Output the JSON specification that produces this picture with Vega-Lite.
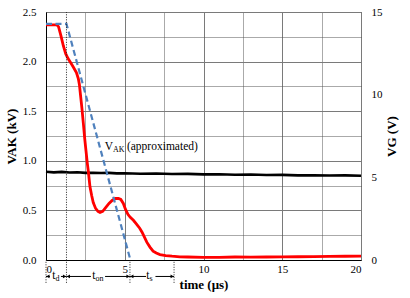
{
  "$schema": "https://vega.github.io/schema/vega-lite/v6.json",
  "width": 315,
  "height": 248,
  "autosize": {"type": "none"},
  "padding": {"left": 46, "top": 12, "right": 49, "bottom": 38},
  "background": "white",
  "config": {
    "font": "Liberation Serif",
    "view": {"stroke": "#404040", "strokeWidth": 1},
    "axis": {
      "labelFont": "Liberation Serif",
      "labelFontSize": 11,
      "labelColor": "black",
      "titleFont": "Liberation Serif",
      "titleColor": "black",
      "titleFontWeight": "bold",
      "titleFontSize": 13,
      "ticks": false
    },
    "text": {"font": "Liberation Serif", "color": "black"}
  },
  "datasets": {
    "vak": [
      {"t": 0, "v": 2.37}, {"t": 0.7, "v": 2.37}, {"t": 0.8, "v": 2.35}, {"t": 0.95, "v": 2.26},
      {"t": 1.1, "v": 2.16}, {"t": 1.25, "v": 2.08}, {"t": 1.4, "v": 2.03}, {"t": 1.56, "v": 1.99},
      {"t": 1.75, "v": 1.94}, {"t": 1.93, "v": 1.89}, {"t": 2.05, "v": 1.83}, {"t": 2.12, "v": 1.77},
      {"t": 2.2, "v": 1.65}, {"t": 2.28, "v": 1.53}, {"t": 2.37, "v": 1.38}, {"t": 2.46, "v": 1.22},
      {"t": 2.54, "v": 1.1}, {"t": 2.62, "v": 0.98}, {"t": 2.69, "v": 0.89}, {"t": 2.79, "v": 0.74},
      {"t": 2.9, "v": 0.65}, {"t": 3.0, "v": 0.58}, {"t": 3.15, "v": 0.52}, {"t": 3.3, "v": 0.49},
      {"t": 3.43, "v": 0.48}, {"t": 3.6, "v": 0.49}, {"t": 3.8, "v": 0.53}, {"t": 4.0, "v": 0.57},
      {"t": 4.2, "v": 0.6}, {"t": 4.4, "v": 0.62}, {"t": 4.6, "v": 0.62}, {"t": 4.75, "v": 0.61},
      {"t": 4.91, "v": 0.57}, {"t": 5.05, "v": 0.51}, {"t": 5.2, "v": 0.46}, {"t": 5.35, "v": 0.43},
      {"t": 5.55, "v": 0.4}, {"t": 5.76, "v": 0.36}, {"t": 5.95, "v": 0.32}, {"t": 6.1, "v": 0.28},
      {"t": 6.25, "v": 0.23}, {"t": 6.4, "v": 0.18}, {"t": 6.6, "v": 0.13}, {"t": 6.8, "v": 0.09},
      {"t": 7.0, "v": 0.07}, {"t": 7.24, "v": 0.055}, {"t": 7.6, "v": 0.045}, {"t": 8.0, "v": 0.038},
      {"t": 8.5, "v": 0.032}, {"t": 9, "v": 0.03}, {"t": 10, "v": 0.027}, {"t": 11, "v": 0.027},
      {"t": 12, "v": 0.03}, {"t": 13, "v": 0.028}, {"t": 14, "v": 0.03}, {"t": 15, "v": 0.032},
      {"t": 16, "v": 0.033}, {"t": 17, "v": 0.035}, {"t": 18, "v": 0.036}, {"t": 19, "v": 0.038},
      {"t": 20, "v": 0.04}
    ],
    "approx": [
      {"t": 0, "v": 2.38}, {"t": 1.3, "v": 2.38}, {"t": 5.36, "v": 0}
    ],
    "vg": [
      {"t": 0, "vg": 5.34}, {"t": 0.5, "vg": 5.3}, {"t": 1, "vg": 5.33}, {"t": 1.5, "vg": 5.29},
      {"t": 2, "vg": 5.31}, {"t": 2.5, "vg": 5.27}, {"t": 3, "vg": 5.28}, {"t": 3.5, "vg": 5.26},
      {"t": 4, "vg": 5.27}, {"t": 4.5, "vg": 5.24}, {"t": 5, "vg": 5.25}, {"t": 6, "vg": 5.22},
      {"t": 7, "vg": 5.23}, {"t": 8, "vg": 5.2}, {"t": 9, "vg": 5.21}, {"t": 10, "vg": 5.18},
      {"t": 11, "vg": 5.19}, {"t": 12, "vg": 5.16}, {"t": 13, "vg": 5.17}, {"t": 14, "vg": 5.14},
      {"t": 15, "vg": 5.15}, {"t": 16, "vg": 5.12}, {"t": 17, "vg": 5.13}, {"t": 18, "vg": 5.11},
      {"t": 19, "vg": 5.12}, {"t": 20, "vg": 5.1}
    ],
    "marks": [
      {"t": 0, "v": -0.23, "v2": 0},
      {"t": 1.3, "v": -0.23, "v2": 2.5},
      {"t": 5.33, "v": -0.23, "v2": 0},
      {"t": 8.13, "v": -0.23, "v2": 0}
    ],
    "segs": [
      {"t": 0, "t2": 0.25, "v": -0.166},
      {"t": 0.95, "t2": 1.3, "v": -0.166},
      {"t": 1.3, "t2": 2.85, "v": -0.166},
      {"t": 3.75, "t2": 5.33, "v": -0.166},
      {"t": 5.33, "t2": 6.35, "v": -0.166},
      {"t": 6.95, "t2": 8.13, "v": -0.166}
    ],
    "heads": [
      {"t": 0.12, "v": -0.166, "dir": "left"},
      {"t": 1.18, "v": -0.166, "dir": "right"},
      {"t": 1.42, "v": -0.166, "dir": "left"},
      {"t": 5.21, "v": -0.166, "dir": "right"},
      {"t": 5.45, "v": -0.166, "dir": "left"},
      {"t": 8.01, "v": -0.166, "dir": "right"}
    ],
    "txtMain": [
      {"t": 0.6, "v": -0.166, "txt": "t"},
      {"t": 3.14, "v": -0.166, "txt": "t"},
      {"t": 6.57, "v": -0.166, "txt": "t"},
      {"t": 4.25, "v": 1.144, "txt": "V"}
    ],
    "txtSub": [
      {"t": 0.6, "v": -0.166, "txt": "d"},
      {"t": 3.14, "v": -0.166, "txt": "on"},
      {"t": 6.57, "v": -0.166, "txt": "s"},
      {"t": 4.25, "v": 1.144, "txt": "AK"}
    ],
    "txtRest": [
      {"t": 4.25, "v": 1.144, "txt": "(approximated)"}
    ]
  },
  "layer": [
    {
      "data": {"name": "vak"},
      "mark": {"type": "line", "color": "#ff0000", "strokeWidth": 2.8, "opacity": 0},
      "encoding": {
        "x": {
          "field": "t", "type": "quantitative", "scale": {"domain": [0, 20]},
          "axis": {
            "orient": "bottom",
            "values": [2.5, 7.5, 12.5, 17.5],
            "labels": false, "domain": false, "title": null,
            "grid": true, "gridColor": "#555555", "gridWidth": 1, "gridDash": [1, 1]
          }
        },
        "y": {
          "field": "v", "type": "quantitative", "scale": {"domain": [0, 2.5]},
          "axis": {
            "orient": "left",
            "values": [0.25, 0.75, 1.25, 1.75, 2.25],
            "labels": false, "domain": false, "title": null,
            "grid": true, "gridColor": "#555555", "gridWidth": 1, "gridDash": [1, 1]
          }
        }
      }
    },
    {
      "data": {"name": "vg"},
      "mark": {"type": "line", "color": "black", "strokeWidth": 2.6},
      "encoding": {
        "x": {
          "field": "t", "type": "quantitative", "scale": {"domain": [0, 20]},
          "axis": {
            "orient": "bottom",
            "values": [0, 5, 10, 15, 20],
            "format": "d",
            "grid": true,
            "gridColor": "#7a7a7a",
            "gridWidth": 1,
            "domainColor": "black",
            "labelPadding": 3,
            "title": "time (μs)",
            "titlePadding": 4
          }
        },
        "y": {
          "field": "vg", "type": "quantitative", "scale": {"domain": [0, 15]},
          "axis": {"orient": "right", "values": [0, 5, 10, 15], "grid": false, "domain": false,
                   "labelPadding": 10, "title": "VG (V)", "titleAngle": 270, "titlePadding": 16}
        }
      }
    },
    {
      "data": {"name": "vak"},
      "mark": {"type": "line", "color": "#ff0000", "strokeWidth": 2.8},
      "encoding": {
        "x": {"field": "t", "type": "quantitative", "scale": {"domain": [0, 20]}, "axis": null},
        "y": {
          "field": "v", "type": "quantitative", "scale": {"domain": [0, 2.5]},
          "axis": {
            "orient": "left",
            "values": [0, 0.5, 1, 1.5, 2, 2.5],
            "format": ".1f",
            "grid": true,
            "gridColor": "#7a7a7a",
            "gridWidth": 1,
            "domainColor": "black",
            "labelPadding": 10,
            "title": "VAK (kV)",
            "titlePadding": 4
          }
        }
      }
    },
    {
      "data": {"name": "approx"},
      "mark": {"type": "line", "color": "#4f81bd", "strokeWidth": 2.2, "strokeDash": [6, 3.5]},
      "encoding": {
        "x": {"field": "t", "type": "quantitative", "scale": {"domain": [0, 20]}, "axis": null},
        "y": {"field": "v", "type": "quantitative", "scale": {"domain": [0, 2.5]}, "axis": null}
      }
    },
    {
      "data": {"name": "marks"},
      "mark": {"type": "rule", "color": "#222222", "strokeWidth": 1, "strokeDash": [1, 1.5]},
      "encoding": {
        "x": {"field": "t", "type": "quantitative", "scale": {"domain": [0, 20]}, "axis": null},
        "y": {"field": "v", "type": "quantitative", "scale": {"domain": [0, 2.5]}, "axis": null},
        "y2": {"field": "v2"}
      }
    },
    {
      "data": {"name": "segs"},
      "mark": {"type": "rule", "color": "black", "strokeWidth": 1},
      "encoding": {
        "x": {"field": "t", "type": "quantitative", "scale": {"domain": [0, 20]}, "axis": null},
        "x2": {"field": "t2"},
        "y": {"field": "v", "type": "quantitative", "scale": {"domain": [0, 2.5]}, "axis": null}
      }
    },
    {
      "data": {"name": "heads"},
      "mark": {"type": "point", "filled": true, "color": "black", "size": 14, "opacity": 1},
      "encoding": {
        "x": {"field": "t", "type": "quantitative", "scale": {"domain": [0, 20]}, "axis": null},
        "y": {"field": "v", "type": "quantitative", "scale": {"domain": [0, 2.5]}, "axis": null},
        "shape": {"field": "dir", "type": "nominal", "legend": null,
                  "scale": {"domain": ["left", "right"], "range": ["triangle-left", "triangle-right"]}}
      }
    },
    {
      "data": {"name": "txtMain"},
      "mark": {"type": "text", "align": "right", "baseline": "middle", "fontSize": 11.5},
      "encoding": {
        "x": {"field": "t", "type": "quantitative", "scale": {"domain": [0, 20]}, "axis": null},
        "y": {"field": "v", "type": "quantitative", "scale": {"domain": [0, 2.5]}, "axis": null},
        "text": {"field": "txt"}
      }
    },
    {
      "data": {"name": "txtSub"},
      "mark": {"type": "text", "align": "left", "baseline": "middle", "fontSize": 8, "dy": 3},
      "encoding": {
        "x": {"field": "t", "type": "quantitative", "scale": {"domain": [0, 20]}, "axis": null},
        "y": {"field": "v", "type": "quantitative", "scale": {"domain": [0, 2.5]}, "axis": null},
        "text": {"field": "txt"}
      }
    },
    {
      "data": {"name": "txtRest"},
      "mark": {"type": "text", "align": "left", "baseline": "middle", "fontSize": 11.5, "dx": 14},
      "encoding": {
        "x": {"field": "t", "type": "quantitative", "scale": {"domain": [0, 20]}, "axis": null},
        "y": {"field": "v", "type": "quantitative", "scale": {"domain": [0, 2.5]}, "axis": null},
        "text": {"field": "txt"}
      }
    }
  ],
  "resolve": {"scale": {"y": "independent"}, "axis": {"x": "independent", "y": "independent"}}
}
